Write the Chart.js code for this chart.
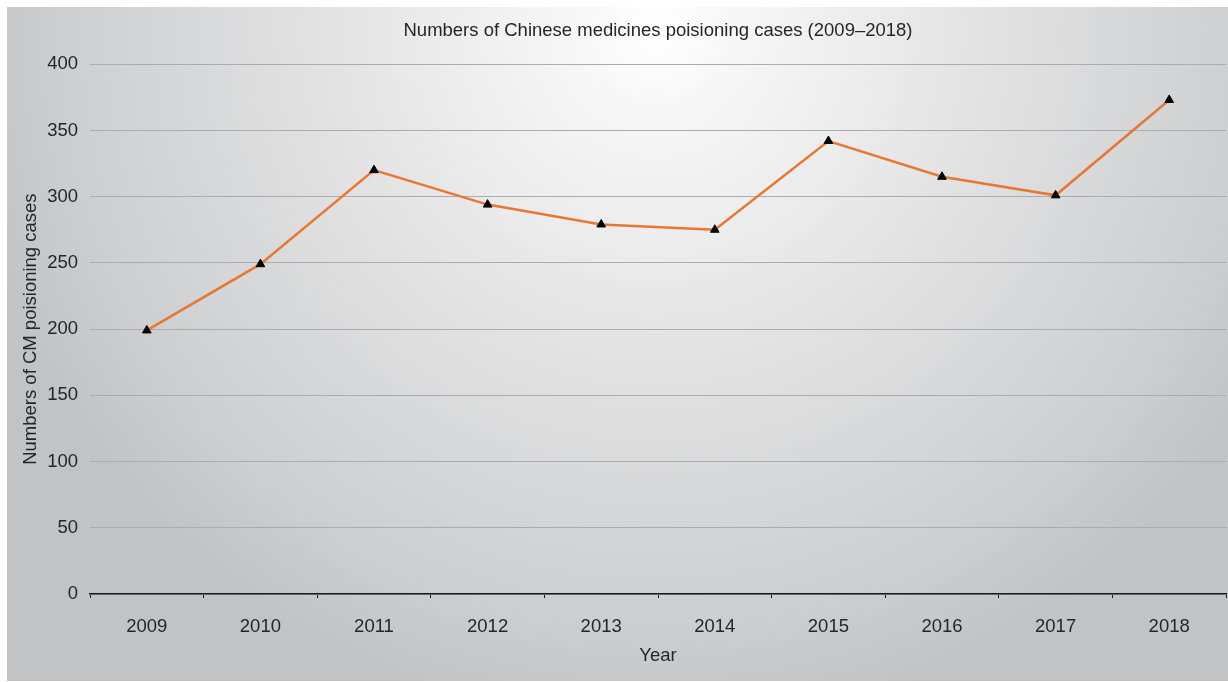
<!DOCTYPE html>
<html>
<head>
<meta charset="utf-8">
<title>Numbers of Chinese medicines poisioning cases (2009–2018)</title>
<script src="https://cdn.jsdelivr.net/npm/chart.js@4/dist/chart.umd.min.js"></script>
<style>
  html, body { margin: 0; padding: 0; background: #ffffff; }
  #wrap { position: relative; width: 1228px; height: 682px; }
</style>
</head>
<body>
<div id="wrap"><canvas id="chart" width="1228" height="682"></canvas></div>
<script>
// Yearly counts of Chinese-medicine poisoning cases
const years = ['2009', '2010', '2011', '2012', '2013', '2014', '2015', '2016', '2017', '2018'];
const cases = [199, 249, 320, 294, 279, 275, 342, 315, 301, 373];
const yTicks = [0, 50, 100, 150, 200, 250, 300, 350, 400];

const FONT = "'Liberation Sans', Arial, Helvetica, sans-serif";
const TEXT = '#262626';
const SIZE = 18.5;

// Soft radial grey backdrop behind the whole figure
const backdrop = {
  id: 'backdrop',
  beforeDraw(chart) {
    const { ctx, width, height } = chart;
    ctx.save();
    ctx.fillStyle = '#ffffff';
    ctx.fillRect(0, 0, width, height);
    const x0 = 7, y0 = 7, w = width - x0, h = height - y0 - 1;
    ctx.beginPath();
    ctx.rect(x0, y0, w, h);
    ctx.clip();
    ctx.translate(655, 30);
    const g = ctx.createRadialGradient(0, 0, 0, 0, 0, 700);
    g.addColorStop(0, '#ffffff');
    g.addColorStop(0.1, '#f8f8f8');
    g.addColorStop(0.5, '#e1e1e2');
    g.addColorStop(0.85, '#cdcecf');
    g.addColorStop(1, '#c2c3c5');
    ctx.fillStyle = g;
    ctx.fillRect(-800, -100, 1700, 800);
    ctx.restore();
  }
};

new Chart(document.getElementById('chart'), {
  type: 'line',
  data: {
    labels: years,
    datasets: [{
      data: cases,
      borderColor: '#e87733',
      borderWidth: 2.5,
      pointStyle: 'triangle',
      pointRadius: 5,
      pointBackgroundColor: '#000000',
      pointBorderColor: '#000000',
      pointBorderWidth: 1,
      tension: 0,
      fill: false
    }]
  },
  options: {
    responsive: false,
    animation: false,
    devicePixelRatio: 1,
    layout: { autoPadding: false, padding: { left: 0, right: 2, top: 0, bottom: 0 } },
    plugins: {
      legend: { display: false },
      tooltip: { enabled: false },
      title: {
        display: true,
        fullSize: false,
        text: 'Numbers of Chinese medicines poisioning cases (2009–2018)',
        color: TEXT,
        font: { family: FONT, size: SIZE, weight: 'normal' },
        padding: { top: 20, bottom: 22 }
      }
    },
    scales: {
      x: {
        offset: true,
        afterFit(scale) { scale.height = 88; },
        grid: {
          offset: true,
          drawOnChartArea: false,
          drawTicks: true,
          tickLength: 4,
          color: '#1a1a1a',
          lineWidth: 1
        },
        border: { display: true, color: '#1a1a1a', width: 1.5 },
        ticks: {
          color: TEXT,
          padding: 18,
          font: { family: FONT, size: SIZE }
        },
        title: {
          display: true,
          text: 'Year',
          color: TEXT,
          font: { family: FONT, size: SIZE },
          padding: { top: 0, bottom: 15 }
        }
      },
      y: {
        min: 0,
        max: 400,
        afterFit(scale) { scale.width = 90; },
        afterBuildTicks(scale) { scale.ticks = yTicks.map(v => ({ value: v })); },
        grid: {
          drawTicks: false,
          color: '#acacae',
          lineWidth: 1
        },
        border: { display: false },
        ticks: {
          color: TEXT,
          padding: 12,
          font: { family: FONT, size: SIZE }
        },
        title: {
          display: true,
          text: 'Numbers of CM poisioning cases',
          color: TEXT,
          font: { family: FONT, size: SIZE },
          padding: { top: 20, bottom: 0 }
        }
      }
    }
  },
  plugins: [backdrop]
});
</script>
</body>
</html>
